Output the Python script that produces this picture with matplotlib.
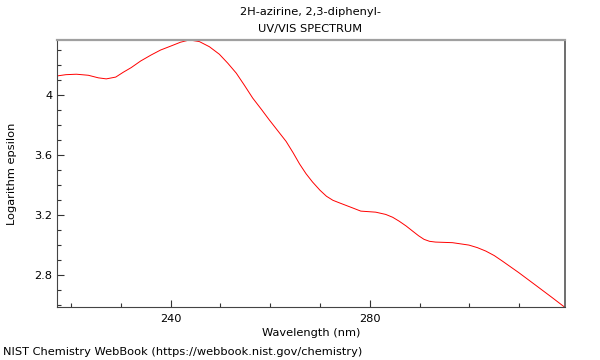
import matplotlib
matplotlib.use("Agg")
import matplotlib.pyplot as plt
from matplotlib.ticker import MultipleLocator

wavelength = [217.3, 219.0, 221.1, 223.5, 225.5, 227.1, 229.0, 230.5, 232.1, 234.0,
              236.1, 238.0, 240.1, 242.0, 243.8, 245.8, 247.8, 249.8, 251.5, 253.2,
              254.8, 256.5, 258.2, 259.8, 261.5, 263.2, 264.6, 265.9, 267.2, 268.5,
              270.0, 271.3, 272.6, 273.9, 276.5, 278.2, 281.2, 283.2, 284.6, 285.9,
              287.3, 288.6, 289.8, 290.9, 292.0, 293.2, 296.6, 299.9, 301.6, 303.3,
              305.0, 306.6, 309.9, 313.3, 316.6, 319.2]
log_eps = [4.126, 4.134, 4.137, 4.130, 4.113, 4.106, 4.118, 4.150, 4.181, 4.225,
           4.265, 4.298, 4.325, 4.350, 4.365, 4.354, 4.320, 4.270, 4.210, 4.144,
           4.065, 3.978, 3.905, 3.834, 3.762, 3.690, 3.615, 3.540, 3.475, 3.420,
           3.365, 3.325, 3.298, 3.281, 3.248, 3.226, 3.219, 3.204, 3.185, 3.159,
           3.127, 3.093, 3.062, 3.038, 3.025, 3.020, 3.016, 3.000, 2.983, 2.960,
           2.930, 2.894, 2.817, 2.733, 2.651, 2.585]

title_lines = ["2H-azirine, 2,3-diphenyl-", "UV/VIS SPECTRUM"]

fig = plt.figure(figsize=(6, 3.6), dpi=100)
ax = fig.add_axes([0.0958, 0.146, 0.8459, 0.743])
ax.plot(wavelength, log_eps, color="red", linewidth=0.7)
ax.set_xlim(min(wavelength), max(wavelength))
ax.set_ylim(min(log_eps), max(log_eps))

ax.xaxis.set_major_locator(MultipleLocator(40))
ax.xaxis.set_minor_locator(MultipleLocator(10))
ax.yaxis.set_major_locator(MultipleLocator(0.4))
ax.yaxis.set_minor_locator(MultipleLocator(0.1))
ax.yaxis.set_major_formatter(plt.FuncFormatter(lambda v, p: f"{v:g}"))
ax.tick_params(which="both", direction="in", labelsize=8.2, colors="#333333", labelcolor="black")
ax.tick_params(which="major", length=5, width=0.8)
ax.tick_params(which="minor", length=3, width=0.8)
ax.tick_params(axis="x", which="major", pad=5)
ax.tick_params(top=False, right=False)

ax.spines["top"].set_color("#a0a0a0")
ax.spines["top"].set_linewidth(1.6)
ax.spines["right"].set_color("#555555")
ax.spines["right"].set_linewidth(1.2)
ax.spines["left"].set_color("#444444")
ax.spines["bottom"].set_color("#444444")

ax.set_xlabel("Wavelength (nm)", fontsize=8.2, labelpad=2.5)
ax.set_ylabel("Logarithm epsilon", fontsize=8.2, labelpad=13)
fig.text(0.517, 0.966, title_lines[0], ha="center", va="center", fontsize=8.2)
fig.text(0.517, 0.919, title_lines[1], ha="center", va="center", fontsize=8.2)
fig.text(0.005, 0.022, "NIST Chemistry WebBook (https://webbook.nist.gov/chemistry)",
         ha="left", va="center", fontsize=8.2)

fig.savefig("out.png", dpi=100)
